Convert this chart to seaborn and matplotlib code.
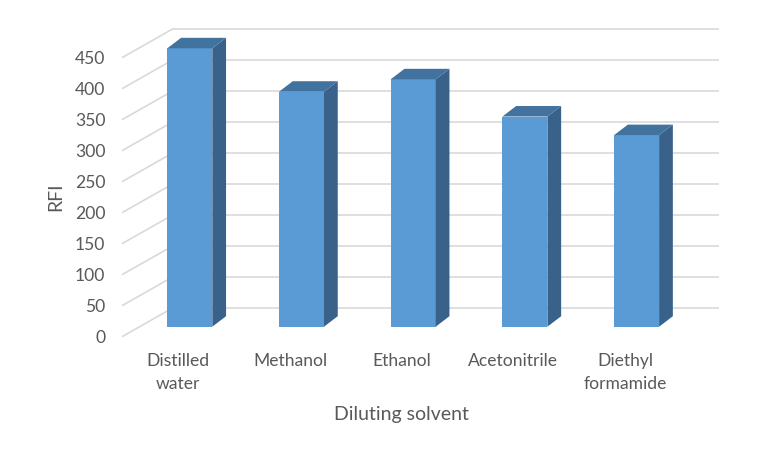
import matplotlib
matplotlib.use("Agg")
import matplotlib.pyplot as plt
from matplotlib.patches import Polygon
import seaborn as sns
import pandas as pd

# data
solvents = ["Distilled\nwater", "Methanol", "Ethanol", "Acetonitrile", "Diethyl\nformamide"]
rfi = [449, 379, 399, 339, 309]
y_ticks = [0, 50, 100, 150, 200, 250, 300, 350, 400, 450]

# layout of the fake 3D box, in pixels of the 762x457 picture
FIG_W, FIG_H = 762, 457
AX_L, AX_B = 108, 352          # axes left edge / bottom edge (from top)
BAR0_PX, BAR_STEP = 189.8, 111.7
BASE_PX, PX_PER_UNIT = 326.7, 0.62
DEPTH_X, DEPTH_Y = 38, 29      # floor depth vector in px
BAR_FRONT, BAR_BACK = 0.345, 0.707
FLOOR_LEFT_PX, WALL_RIGHT_PX = 122, 719
LABEL_SHIFT_PX = -11.5

FRONT = "#5B9BD5"
SIDE = "#386289"
TOP = "#42729E"
GRID = "#D9D9D9"
TEXT = "#595959"


def px_dx(px):
    return px / BAR_STEP


def px_dy(px):
    return px / PX_PER_UNIT


sns.set_theme(style="white")
plt.rcParams["font.family"] = ["Lato", "DejaVu Sans"]

fig = plt.figure(figsize=(FIG_W / 100, FIG_H / 100), dpi=100)
ax = fig.add_axes([AX_L / FIG_W, (FIG_H - AX_B) / FIG_H, 1 - AX_L / FIG_W, AX_B / FIG_H])

df = pd.DataFrame({"solvent": solvents, "rfi": rfi})
sns.barplot(data=df, x="solvent", y="rfi", color=FRONT, width=45 / BAR_STEP,
            saturation=1, ax=ax, zorder=3, linewidth=0)

# offsets of the floor front edge, back wall and bar depth from the bar front plane
front_dx, front_dy = -px_dx(BAR_FRONT * DEPTH_X), -px_dy(BAR_FRONT * DEPTH_Y)
wall_dx, wall_dy = px_dx((1 - BAR_FRONT) * DEPTH_X), px_dy((1 - BAR_FRONT) * DEPTH_Y)
bar_dx, bar_dy = px_dx((BAR_BACK - BAR_FRONT) * DEPTH_X), px_dy((BAR_BACK - BAR_FRONT) * DEPTH_Y)

x_front_left = px_dx(FLOOR_LEFT_PX - BAR0_PX) - front_dx
x_wall_left = x_front_left + px_dx(DEPTH_X)
x_wall_right = px_dx(WALL_RIGHT_PX - BAR0_PX)

for v in y_ticks:
    # diagonal on the left wall and horizontal line on the back wall
    ax.plot([x_front_left + front_dx, x_wall_left], [v + front_dy, v + wall_dy],
            color=GRID, lw=1.2, zorder=1, clip_on=False, solid_capstyle="butt")
    ax.plot([x_wall_left, x_wall_right], [v + wall_dy, v + wall_dy],
            color=GRID, lw=1.2, zorder=1, clip_on=False, solid_capstyle="butt")

for p in list(ax.patches):
    x0, w, h = p.get_x(), p.get_width(), p.get_height()
    side = Polygon([(x0 + w, 0), (x0 + w + bar_dx, bar_dy),
                    (x0 + w + bar_dx, h + bar_dy), (x0 + w, h)],
                   closed=True, facecolor=SIDE, edgecolor="none", zorder=3, clip_on=False)
    top = Polygon([(x0, h), (x0 + bar_dx, h + bar_dy),
                   (x0 + w + bar_dx, h + bar_dy), (x0 + w, h)],
                  closed=True, facecolor=TOP, edgecolor="none", zorder=3, clip_on=False)
    ax.add_patch(side)
    ax.add_patch(top)

ax.set_xlim(px_dx(AX_L - BAR0_PX), px_dx(FIG_W - BAR0_PX))
ax.set_ylim(px_dy(BASE_PX - AX_B), px_dy(BASE_PX))

ax.set_yticks([v + front_dy for v in y_ticks], labels=[str(v) for v in y_ticks])
ax.set_xticks([i + px_dx(LABEL_SHIFT_PX) for i in range(len(solvents))], labels=solvents)
ax.tick_params(axis="both", length=0, labelsize=12.6, colors=TEXT)
ax.tick_params(axis="y", pad=2)
ax.tick_params(axis="x", pad=0.5)
for lab in ax.get_xticklabels():
    lab.set_linespacing(1.55)

ax.set_xlabel("Diluting solvent", fontsize=14, color=TEXT)
ax.set_ylabel("RFI", fontsize=14, color=TEXT)
ax.xaxis.set_label_coords((401.5 - AX_L) / (FIG_W - AX_L), (AX_B - 406) / AX_B)
ax.yaxis.set_label_coords((64 - AX_L) / (FIG_W - AX_L), (AX_B - 196.7) / AX_B)

for s in ax.spines.values():
    s.set_visible(False)
ax.patch.set_alpha(0)

fig.savefig("out.png", dpi=100, facecolor="white")
